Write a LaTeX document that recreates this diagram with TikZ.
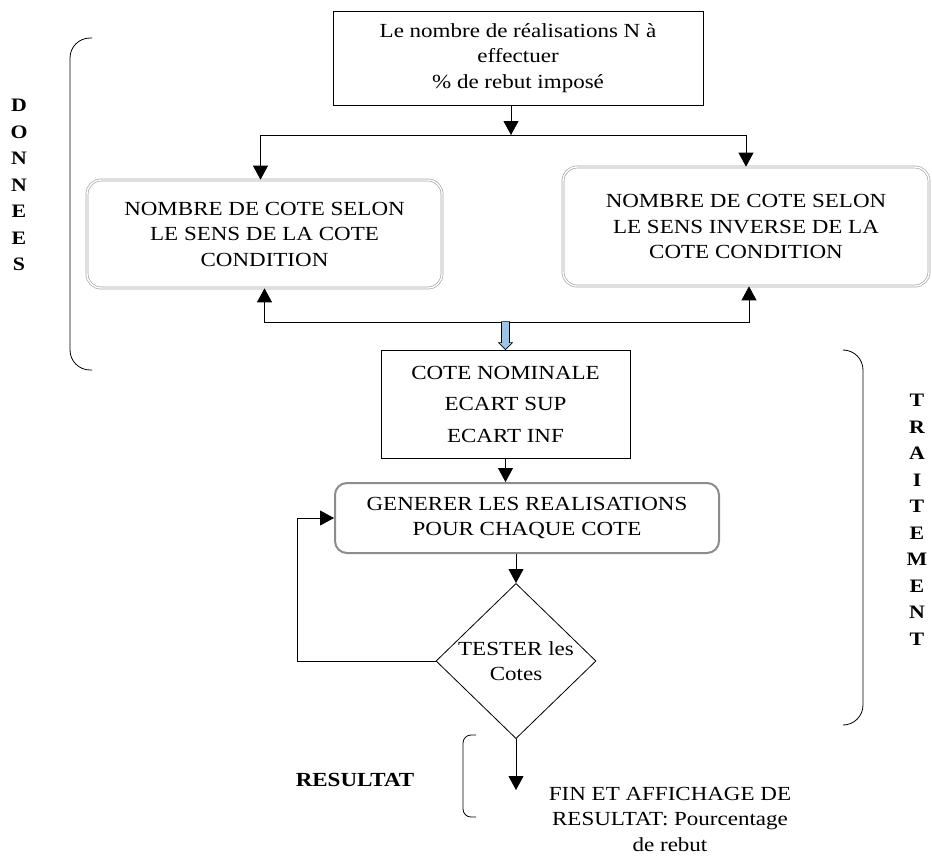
\documentclass[tikz,border=0pt]{standalone}
\usepackage{fontspec}
\setmainfont{Liberation Serif}[FakeStretch=1.15]
\usepackage{tikz}
\usetikzlibrary{shapes,
                arrows.meta,
                positioning}
\definecolor{framegray}{RGB}{140,140,140}
\definecolor{arrowblue}{RGB}{157,195,230}
\tikzset{block/.style=
   {rectangle,
    draw,
    text centered,
    align=center,
    line width=0.8pt,
    inner sep=0pt}}
\tikzset{shadedblock/.style=
   {block,
    rounded corners=14pt,
    draw=gray!70,
    double=white,
    double distance=1.4pt,
    line width=0.7pt}}
\tikzset{genblock/.style=
   {block,
    rounded corners=12pt,
    draw=framegray,
    line width=2pt}}
\tikzset{decision/.style=
   {diamond,
    draw,
    align=center,
    line width=0.8pt,
    inner sep=0pt,
    minimum width=160pt,
    minimum height=138pt}}
\tikzset{side/.style={align=center, font=\fontsize{19}{26.5}\selectfont\bfseries}}
\tikzset{arrow/.style = {draw, line width=0.8pt, -{Triangle[length=14pt,width=15pt]}}}

\begin{document}
\begin{tikzpicture}[x=1pt, y=-1pt, font=\fontsize{20}{25.5}\selectfont]
    \useasboundingbox (0,0) rectangle (932,855);

    % Blocks
    \node [block, minimum width=370pt, minimum height=94pt] (donnees) at (518,58)
        {Le nombre de réalisations N à\\ effectuer\\ \% de rebut imposé};
    \node [shadedblock, minimum width=355pt, minimum height=108pt] (sens) at (264.5,234)
        {NOMBRE DE COTE SELON\\ LE SENS DE LA COTE\\ CONDITION};
    \node [shadedblock, minimum width=366pt, minimum height=119pt] (inverse) at (746,226.5)
        {NOMBRE DE COTE SELON\\ LE SENS INVERSE DE LA\\ COTE CONDITION};
    \node [block, minimum width=249pt, minimum height=108pt] (nominal) at (505.5,404)
        {COTE NOMINALE\\[6pt] ECART SUP\\[6pt] ECART INF};
    \node [genblock, minimum width=384pt, minimum height=70pt] (generer) at (527,518)
        {GENERER LES REALISATIONS\\ POUR CHAQUE COTE};
    \node [decision] (tester) at (516,661) {TESTER les\\ Cotes};
    \node [align=center, inner sep=0pt] (fin) at (670,819)
        {FIN ET AFFICHAGE DE\\ RESULTAT: Pourcentage\\ de rebut};

    % Labels
    \node [side] (lbldonnees) at (19,185) {D\\O\\N\\N\\E\\E\\S};
    \node [side] (lbltraitement) at (917,520) {T\\R\\A\\I\\T\\E\\M\\E\\N\\T};
    \node [font=\fontsize{20}{24}\selectfont\bfseries] (lblresultat) at (355,780) {RESULTAT};

    % Junctions
    \coordinate (split) at (511,135);
    \coordinate (merge) at (505,322);
    \coordinate (sortie) at (516,790);

    % Draw edges

    \path [arrow]
    (split |- donnees.south) -- (split);

    \path [arrow]
    (split) -| ([xshift=-4pt]sens.north);

    \path [arrow]
    (split) -| (inverse.north);

    \path [arrow]
    (merge) -| (sens.south);

    \path [arrow]
    (merge) -| ([xshift=3pt]inverse.south);

    \draw [fill=arrowblue, line width=0.6pt]
    (nominal.north) -- ++(7,-7) -- ++(-3,0) -- ++(0,-21) -- ++(-8,0) -- ++(0,21) -- ++(-3,0) -- cycle;

    \path [arrow]
    (nominal.south) -- (nominal.south |- generer.north);

    \path [arrow]
    (tester.north |- generer.south) -- (tester.north);

    \path [arrow]
    (tester.west) -- ++(-138,0) |- (generer.west);

    \path [arrow]
    (tester.south) -- (sortie);

    % Braces
    \draw [line width=0.8pt, rounded corners=20pt] (92,38) -- (70,38) -- (70,370) -- (92,370);
    \draw [line width=0.8pt, rounded corners=20pt] (845,350) -- (863,350) -- (863,725) -- (845,725);
    \draw [line width=0.8pt, rounded corners=8pt] (476,735) -- (463,735) -- (463,817) -- (476,817);

\end{tikzpicture}
\end{document}
